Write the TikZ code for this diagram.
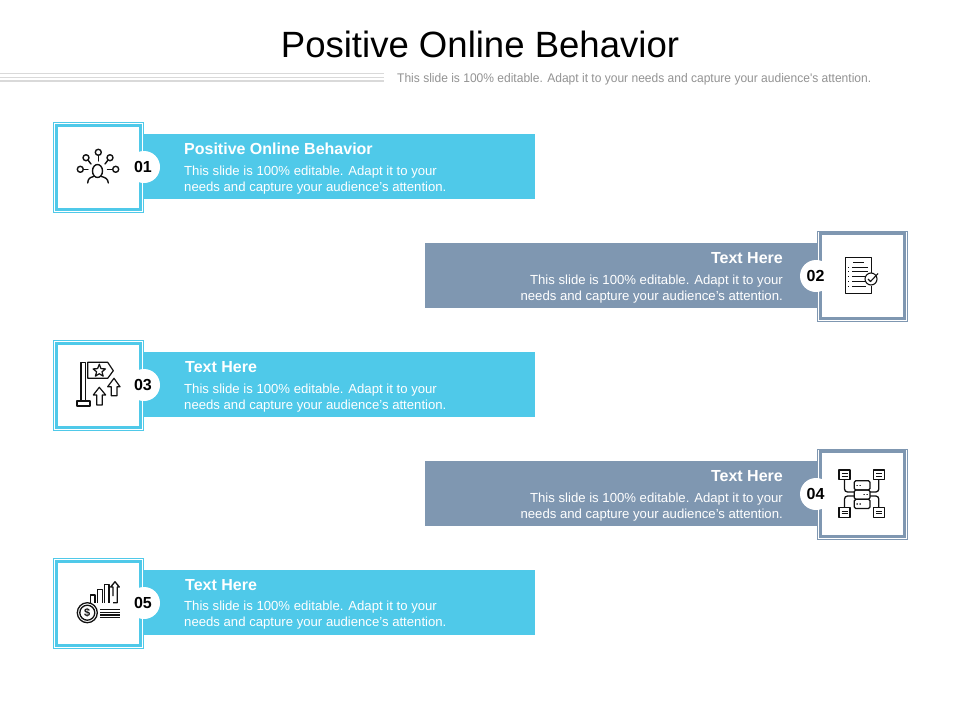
\documentclass[tikz,border=0pt]{standalone}
\usepackage{fontspec}
\setmainfont{Liberation Sans}
\newfontfamily\narrowsans[FakeStretch=0.962]{Liberation Sans}
\definecolor{skyb}{HTML}{4FC9E9}
\definecolor{slateb}{HTML}{7F97B1}
\definecolor{ink}{HTML}{111111}
\tikzset{
  ic/.style={draw=ink,line width=1.4pt,line join=round,line cap=round},
  bodytxt/.style={text=white,inner sep=0pt,font=\fontsize{13.15}{16}\selectfont},
  headtxt/.style={text=white,inner sep=0pt,font=\fontsize{16}{18}\selectfont\bfseries},
  numtxt/.style={text=black,inner sep=0pt,font=\fontsize{16}{18}\selectfont\bfseries},
}
\newcommand{\tile}[3]{
  \fill[white] (#1-45.5,#2-45.5) rectangle (#1+45.5,#2+45.5);
  \draw[#3,line width=1pt] (#1-45,#2-45) rectangle (#1+45,#2+45);
  \draw[#3,line width=3pt] (#1-42.3,#2-42.3) rectangle (#1+42.3,#2+42.3);
}
\begin{document}
\begin{tikzpicture}[x=1pt,y=-1pt]
\useasboundingbox (0,0) rectangle (960,720);
\fill[white] (0,0) rectangle (960,720);
% header
\node[inner sep=0pt,font=\fontsize{36.55}{40}\selectfont,text=black] (title) at (480,44) {Positive Online Behavior};
\draw[gray!30,line width=1.1pt] (0,73.7) -- (384,73.7);
\draw[gray!30,line width=1.1pt] (0,77.3) -- (384,77.3);
\draw[gray!30,line width=2pt] (0,81) -- (384,81);
\node[inner sep=0pt,anchor=west,text=gray!85,font=\narrowsans\fontsize{12.5}{14}\selectfont] (sub) at (397,79.5) {This slide is 100\% editable. Adapt it to your needs and capture your audience's attention.};
% bars
\fill[skyb] (140,134) rectangle (535,199);
\fill[slateb] (425,243) rectangle (820,308);
\fill[skyb] (140,352) rectangle (535,417);
\fill[slateb] (425,461) rectangle (820,526);
\fill[skyb] (140,570) rectangle (535,635);
% tiles
\tile{98.5}{167.5}{skyb}
\tile{862.5}{276}{slateb}
\tile{98.5}{385.5}{skyb}
\tile{862.5}{494}{slateb}
\tile{98.5}{603.5}{skyb}
% number badges
\foreach \n/\x/\y/\tx/\t in {a/144/167/143/01,b/816/276/815.5/02,c/144/385/143/03,d/816/494/815.5/04,e/144/603/143/05}{
  \fill[white] (\x,\y) circle (16);
  \node[numtxt] (num\n) at (\tx,\y-0.5) {\t};
}
% texts
\node[headtxt,anchor=west] (h1) at (184,149) {Positive Online Behavior};
\node[bodytxt,anchor=north west,align=left] (t1) at (184,165.5) {This slide is 100\% editable. Adapt it to your\\needs and capture your audience's attention.};
\node[headtxt,anchor=east] (h2) at (783,258) {Text Here};
\node[bodytxt,anchor=north east,align=right] (t2) at (783,274.5) {This slide is 100\% editable. Adapt it to your\\needs and capture your audience's attention.};
\node[headtxt,anchor=west] (h3) at (185,367) {Text Here};
\node[bodytxt,anchor=north west,align=left] (t3) at (184,383.5) {This slide is 100\% editable. Adapt it to your\\needs and capture your audience's attention.};
\node[headtxt,anchor=east] (h4) at (783,476) {Text Here};
\node[bodytxt,anchor=north east,align=right] (t4) at (783,492.5) {This slide is 100\% editable. Adapt it to your\\needs and capture your audience's attention.};
\node[headtxt,anchor=west] (h5) at (185,585) {Text Here};
\node[bodytxt,anchor=north west,align=left] (t5) at (184,600.5) {This slide is 100\% editable. Adapt it to your\\needs and capture your audience's attention.};
% icon 1
\begin{scope}[ic]
\draw (97.5,171) ellipse (5 and 6.5);
\draw (87.7,183) .. controls (88,178.5) and (90,177.5) .. (93.5,176.5);
\draw (108.3,183) .. controls (108,178.5) and (105,177.5) .. (101.5,176.5);
\draw (98.3,152.3) circle (3);
\draw (86,157.7) circle (3);
\draw (110,157.7) circle (3);
\draw (80.3,169.3) circle (3);
\draw (115.7,169.3) circle (3);
\draw (98.3,155.3) -- (98.3,161);
\draw (88,160) -- (91,164);
\draw (108,160) -- (105,164);
\draw (83.5,169.3) -- (88,169.3);
\draw (112.5,169.3) -- (107.5,169.3);
\end{scope}
% icon 2
\begin{scope}[ic,line width=1.1pt,line cap=butt]
\draw (871.7,272.5) -- (871.7,257.3) -- (845.4,257.3) -- (845.4,293.3) -- (871.7,293.3) -- (871.7,285.5);
\draw[line width=1.4pt] (853.3,262.7) -- (864,262.7);
\draw (852,267.3) -- (868,267.3);
\draw (852,271.7) -- (868,271.7);
\draw (852,276.7) -- (864.5,276.7);
\draw (852,281.7) -- (864.5,281.7);
\draw (852,286.7) -- (866,286.7);
\foreach \y in {267.3,271.7,276.7,281.7,286.7}{\draw (848,\y) -- (849.3,\y);}
\draw (871,279) circle (6);
\draw (868,279) -- (870.5,281.5) -- (878,273.5);
\end{scope}
% icon 3
\begin{scope}[ic,line width=1.2pt,line cap=butt]
\draw (81,401) -- (81,362.3) -- (85.2,362.3) -- (85.2,401);
\draw (77,401) rectangle (90,406);
\draw (87.7,362.3) -- (107.7,362.3) -- (113.3,370.7) -- (107.7,378.3) -- (87.7,378.3) -- cycle;
\draw (99.3,364.2) -- (101,368.6) -- (105.5,368.9) -- (102,371.8) -- (103.2,376.2) -- (99.3,373.7) -- (95.4,376.2) -- (96.6,371.8) -- (93.1,368.9) -- (97.6,368.6) -- cycle;
\draw (99.3,387.3) -- (105.7,395) -- (102.3,395) -- (102.3,405) -- (96.7,405) -- (96.7,395) -- (93.3,395) -- cycle;
\draw (114,378.3) -- (120,386.7) -- (117,386.7) -- (117,395.7) -- (111.3,395.7) -- (111.3,386.7) -- (107.7,386.7) -- cycle;
\end{scope}
% icon 4
\begin{scope}[ic,line width=1.3pt,line cap=butt]
\foreach \x/\y in {839/470,873.3/470,839/507.7,873.3/507.7}{
  \draw[line width=1.3pt] (\x,\y) rectangle (\x+11,\y+9.5);
  \draw[line width=1pt] (\x+2.5,\y+3.4) -- (\x+8.5,\y+3.4);
  \draw[line width=1pt] (\x+2.5,\y+6.1) -- (\x+8.5,\y+6.1);
}
\draw[rounded corners=1.5pt] (854.3,480.7) rectangle (870,490);
\draw[rounded corners=1.5pt] (854.3,490) rectangle (870,499.3);
\draw[rounded corners=1.5pt] (854.3,499.3) rectangle (870,508.5);
\foreach \y in {485.3,503.9}{\draw[line width=1.3pt,line cap=round] (857,\y) -- (857.2,\y) (860,\y) -- (860.2,\y);}
\draw[line width=1.3pt,line cap=round] (864,494.7) -- (864.2,494.7) (867,494.7) -- (867.2,494.7);
\draw[rounded corners=3pt] (844.5,479.5) -- (844.5,492) -- (854.3,492);
\draw[rounded corners=3pt] (878.8,479.5) -- (878.8,492) -- (870,492);
\draw[rounded corners=3pt] (844.5,507.7) -- (844.5,496) -- (854.3,496);
\draw[rounded corners=3pt] (878.8,507.7) -- (878.8,496) -- (870,496);
\end{scope}
% icon 5
\begin{scope}[ic,line width=1.3pt,line cap=butt]
\draw (87.3,612.7) circle (10);
\draw (87.3,612.7) circle (7.5);
\node[inner sep=0pt,text=ink,font=\fontsize{11}{11}\selectfont\bfseries] (dollar) at (87.3,612.7) {\$};
\draw (90.7,602.7) -- (90.7,595) -- (95,595) -- (95,602.7);
\draw (97.3,602.7) -- (97.3,589.3) -- (102.3,589.3) -- (102.3,602.7);
\draw (104.3,602.7) -- (104.3,584.3) -- (109,584.3) -- (109,602.7);
\draw (113,596) -- (113,587) -- (110.7,587) -- (115,581.7) -- (119.3,587) -- (117.3,587) -- (117.3,602.7) -- (113,602.7);
\foreach \y in {609.3,612.3,615,617.7}{\draw[line width=1.2pt] (99.8,\y) -- (120,\y);}
\end{scope}
\end{tikzpicture}
\end{document}
